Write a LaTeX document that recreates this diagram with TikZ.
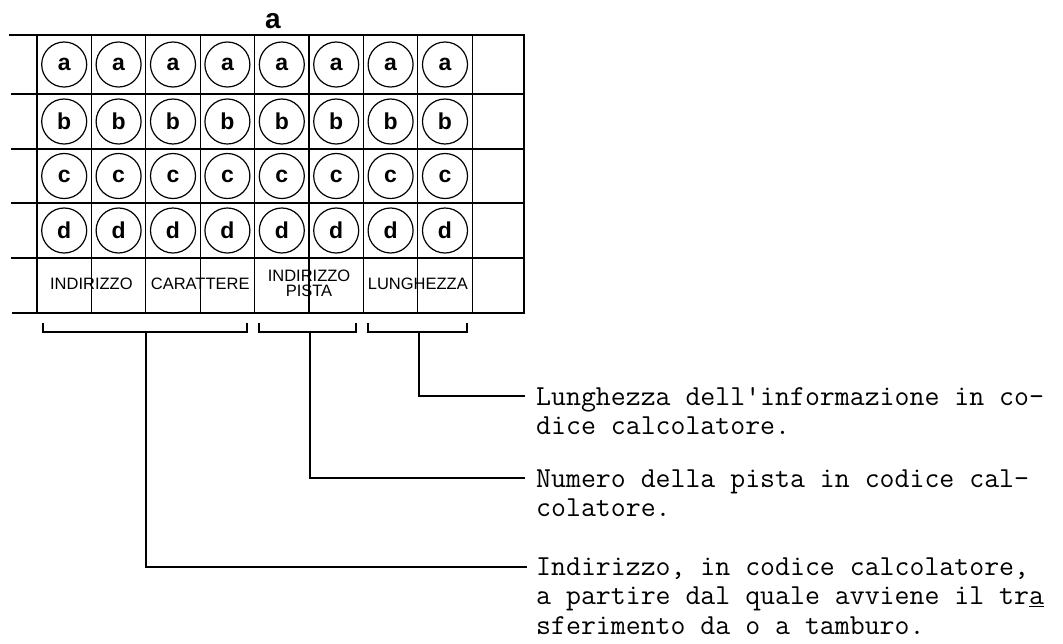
\documentclass[tikz,border=0pt]{standalone}
\usepackage{fontspec}
\setsansfont{Liberation Sans}
\usetikzlibrary{positioning}

\begin{document}
\begin{tikzpicture}[x=1pt, y=-1pt,
    frame/.style={line width=2.8pt},
    grid/.style={line width=1.1pt},
    hole/.style={circle, draw, line width=1.2pt, minimum size=45pt, inner sep=0pt,
                 font=\sffamily\bfseries\fontsize{23}{23}\selectfont},
    field/.style={align=center, inner sep=0pt, font=\sffamily\fontsize{16.5}{15}\selectfont},
    bracket/.style={line width=2pt},
    leader/.style={line width=2pt},
    note/.style={anchor=base west, align=left, inner sep=0pt,
                 font=\ttfamily\fontsize{29}{29.5}\selectfont},
]
\useasboundingbox (0,0) rectangle (1063,643);

\node[anchor=base, font=\sffamily\bfseries\fontsize{28}{28}\selectfont] (title) at (273,28) {a};

\draw[frame] (9,35) -- (524,35) -- (524,313) -- (12,313);
\foreach \y in {94,149,203,258} \draw[grid] (11,\y) -- (524,\y);
\foreach \i in {0,...,8} \draw[grid] ({37+54.4*\i},35) -- ({37+54.4*\i},313);

\foreach \r/\y in {a/64.5, b/121.5, c/176, d/230.5}
  \foreach \c in {1,...,8}
    \node[hole] (\r\c) at ({9.8+54.4*\c},\y) {\r};

\node[field] (ind) at (91.4,284) {INDIRIZZO};
\node[field] (car) at (200.2,284) {CARATTERE};
\node[field] (pis) at (309,283) {INDIRIZZO\\PISTA};
\node[field] (lun) at (417.8,284) {LUNGHEZZA};

\draw[bracket] (43,323) |- (247,332) -- (247,323);
\draw[bracket] (259,323) |- (356,332) -- (356,323);
\draw[bracket] (368,323) |- (467,332) -- (467,323);
\coordinate (stemInd) at (146,332);
\coordinate (stemPis) at (310,332);
\coordinate (stemLun) at (419,332);

\node[note] (noteLun) at (536,434.5) {Lunghezza dell\textquotesingle informazione in co-\\dice calcolatore.};
\node[note] (notePis) at (536,516.5) {Numero della pista in codice cal-\\colatore.};
\node[note] (noteInd) at (536,634) {Indirizzo, in codice calcolatore,\\a partire dal quale avviene il tr\underline{a}\\sferimento da o a tamburo.};

\coordinate (endLun) at (525,396);
\coordinate (endPis) at (525,478);
\coordinate (endInd) at (527,567);
\draw[leader] (stemLun) |- (endLun);
\draw[leader] (stemPis) |- (endPis);
\draw[leader] (stemInd) |- (endInd);
\end{tikzpicture}
\end{document}
